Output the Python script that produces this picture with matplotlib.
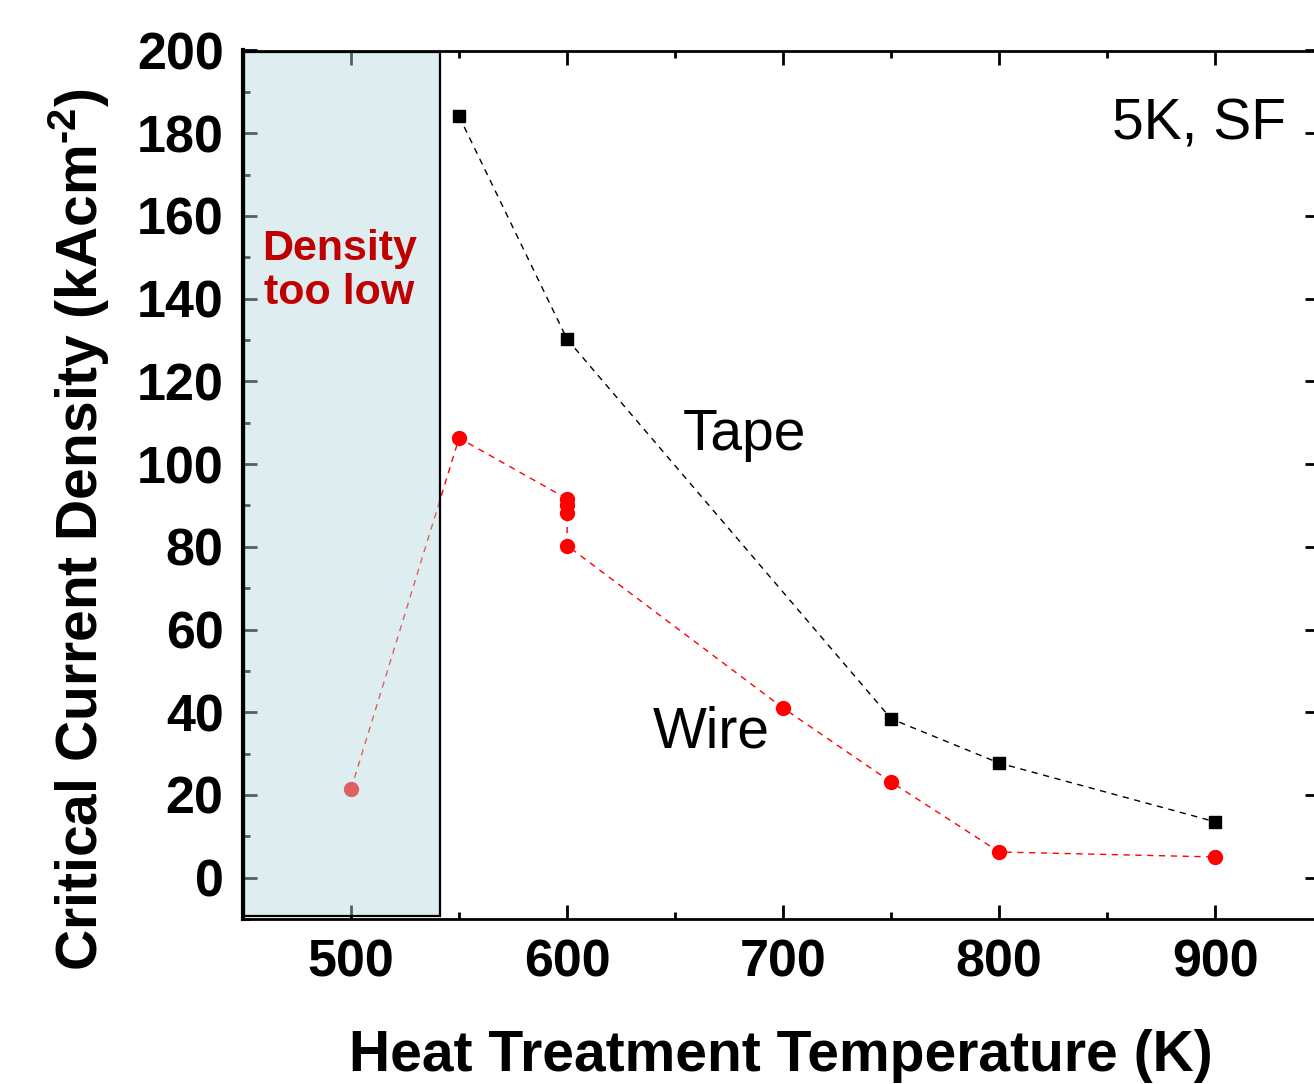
import matplotlib
matplotlib.use('Agg')
import matplotlib.pyplot as plt
import matplotlib.patches as patches
from matplotlib.ticker import MultipleLocator

plt.rcParams['font.family'] = ['Liberation Sans', 'DejaVu Sans']
plt.rcParams['mathtext.fontset'] = 'custom'
plt.rcParams['mathtext.rm'] = 'Liberation Sans:bold'
plt.rcParams['mathtext.default'] = 'rm'

# Tape (zwarte vierkantjes)
tape_temp = [550, 600, 750, 800, 900]
tape_jc = [184.1, 130.2, 38.4, 27.7, 13.5]

# Wire (rode rondjes)
wire_temp = [500, 550, 600, 600, 600, 600, 700, 750, 800, 900]
wire_jc = [21.4, 106.3, 91.6, 90.0, 88.2, 80.3, 41.0, 23.1, 6.2, 5.0]

# Gebied waar de dichtheid te laag is
low_density_range = [450.5, 541]

fig = plt.figure(figsize=(13.14, 10.84), dpi=100)
ax = fig.add_axes([243 / 1314, 165 / 1084, 1076 / 1314, 868.5 / 1084])

ax.plot(tape_temp, tape_jc, color='black', lw=1.0, ls=(0, (4.5, 4)),
        marker='s', ms=8.6, mec='black', mfc='black', zorder=2)
ax.plot(wire_temp, wire_jc, color='red', lw=1.0, ls=(0, (4.5, 4)),
        marker='o', ms=10, mec='red', mfc='red', zorder=2)

# Halfdoorzichtig vlak over de lage-dichtheid punten
rect = patches.Rectangle((low_density_range[0], -9.2), low_density_range[1] - low_density_range[0], 208.8,
                         facecolor=(0.71, 0.85, 0.87, 0.45), edgecolor='black', lw=1.6, zorder=3)
ax.add_patch(rect)

ax.text(494.5, 138.8, 'Density\ntoo low', color='#c00000', fontsize=31, fontweight='bold',
        ha='center', va='baseline', linespacing=1.12, zorder=4)
ax.text(653.5, 103.5, 'Tape', fontsize=41, ha='left', va='baseline')
ax.text(639.5, 31.5, 'Wire', fontsize=41, ha='left', va='baseline')
ax.text(932.7, 178.5, '5K, SF', fontsize=41, ha='right', va='baseline')

ax.set_xlim(450, 948)
ax.set_ylim(-10, 200)
ax.xaxis.set_major_locator(MultipleLocator(100))
ax.xaxis.set_minor_locator(MultipleLocator(50))
ax.yaxis.set_major_locator(MultipleLocator(20))
ax.yaxis.set_minor_locator(MultipleLocator(10))

ax.tick_params(which='both', direction='in', top=True, right=True, width=2)
ax.tick_params(which='major', length=10, labelsize=37.5, pad=14)
ax.tick_params(which='minor', length=5)
ax.tick_params(which='minor', right=False)
for lab in ax.get_xticklabels() + ax.get_yticklabels():
    lab.set_fontweight('bold')

for side in ['top', 'bottom', 'right']:
    ax.spines[side].set_linewidth(2)
ax.spines['left'].set_linewidth(3)

ax.set_xlabel('Heat Treatment Temperature (K)', fontsize=41, fontweight='bold', labelpad=30)
ax.set_ylabel(r'Critical Current Density (kAcm$^{\text{-}2}$)', fontsize=41, fontweight='bold')
ax.yaxis.set_label_coords(-0.122, 0.448)

fig.savefig('out.png', dpi=100)
